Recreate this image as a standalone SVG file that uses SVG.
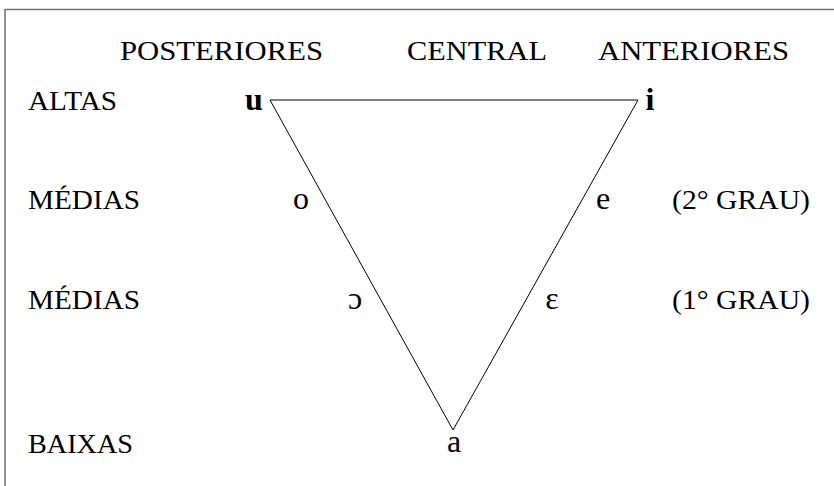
<svg xmlns="http://www.w3.org/2000/svg" width="834" height="486" viewBox="0 0 834 486">
<style>
.t{font-family:"Liberation Serif","Times New Roman",serif;font-size:27px;fill:#000}
.v{font-family:"Liberation Serif","Times New Roman",serif;font-size:32px;fill:#000;text-anchor:middle}
.b{font-weight:bold}
.frame{fill:none;stroke:#6f6f6f;stroke-width:1.5}
.edge{fill:none;stroke:#000;stroke-width:1}
</style>
<rect width="834" height="486" fill="#fff"/>
<path class="frame" d="M5,486 V9.5 H834"/>
<g id="headers">
<text class="t" x="120" y="60" textLength="203" lengthAdjust="spacingAndGlyphs">POSTERIORES</text>
<text class="t" x="407" y="60" textLength="140" lengthAdjust="spacingAndGlyphs">CENTRAL</text>
<text class="t" x="598" y="60" textLength="191" lengthAdjust="spacingAndGlyphs">ANTERIORES</text>
</g>
<g id="rows">
<text class="t" x="28" y="110" textLength="89" lengthAdjust="spacingAndGlyphs">ALTAS</text>
<text class="t" x="28" y="209" textLength="112" lengthAdjust="spacingAndGlyphs">MÉDIAS</text>
<text class="t" x="28" y="309" textLength="112" lengthAdjust="spacingAndGlyphs">MÉDIAS</text>
<text class="t" x="28" y="453" textLength="105" lengthAdjust="spacingAndGlyphs">BAIXAS</text>
<text class="t" x="672" y="209" textLength="138" lengthAdjust="spacingAndGlyphs">(2° GRAU)</text>
<text class="t" x="672" y="309" textLength="138" lengthAdjust="spacingAndGlyphs">(1° GRAU)</text>
</g>
<g id="connectors">
<path class="edge" d="M270,100 H638 L453,430 Z"/>
</g>
<g id="vowel-u"><text class="v b" x="254" y="110">u</text></g>
<g id="vowel-i"><text class="v b" x="650" y="110">i</text></g>
<g id="vowel-o"><text class="v" x="301" y="209">o</text></g>
<g id="vowel-e"><text class="v" x="603" y="209">e</text></g>
<g id="vowel-open-o"><text class="v" x="355" y="309">ɔ</text></g>
<g id="vowel-open-e"><text class="v" x="552" y="309">ɛ</text></g>
<g id="vowel-a"><text class="v" x="454" y="452">a</text></g>
</svg>
